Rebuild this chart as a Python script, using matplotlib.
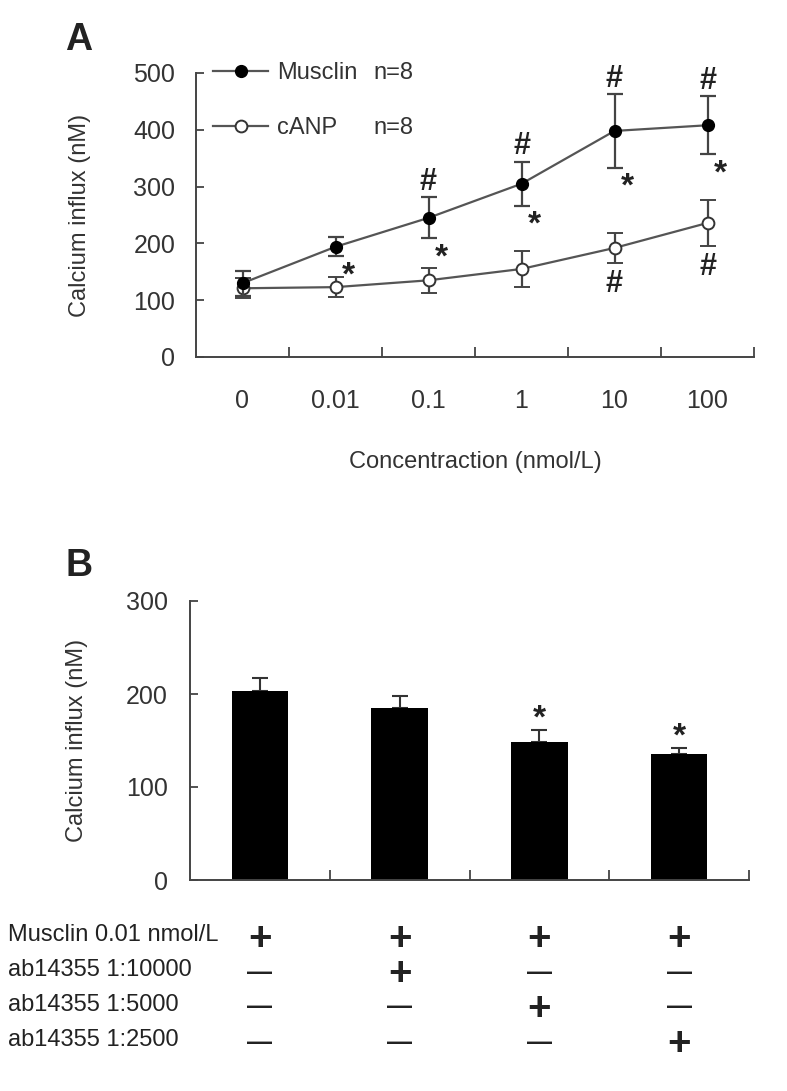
import matplotlib
matplotlib.use('Agg')
import matplotlib.pyplot as plt
import matplotlib.transforms as mtransforms
from matplotlib.lines import Line2D
import numpy as np

plt.rcParams['font.family'] = ['Liberation Sans', 'DejaVu Sans']

# panel A: calcium influx vs concentration
conc_labels = ['0', '0.01', '0.1', '1', '10', '100']
musclin_mean = [130, 194, 245, 305, 398, 408]
musclin_err = [22, 17, 36, 39, 65, 51]
canp_mean = [121, 123, 135, 155, 192, 236]
canp_err = [18, 18, 22, 31, 26, 40]
musclin_hash = [False, False, True, True, True, True]
musclin_star = [False, True, True, True, True, True]
canp_hash = [False, False, False, False, True, True]

# panel B: antibody blocking
bar_mean = [203, 185, 148, 135]
bar_err = [14, 13, 13, 7]
bar_star = [False, False, True, True]
row_labels = ['Musclin 0.01 nmol/L', 'ab14355 1:10000', 'ab14355 1:5000', 'ab14355 1:2500']
row_signs = [['+', '+', '+', '+'],
             ['—', '+', '—', '—'],
             ['—', '—', '+', '—'],
             ['—', '—', '—', '+']]

TXT = '#333333'
W, H = 787, 1091

fig = plt.figure(figsize=(W / 100, H / 100), dpi=100)


def style_axes(ax, ymax, ystep, ncat, ypad):
    for s in ['top', 'right']:
        ax.spines[s].set_visible(False)
    for s in ['left', 'bottom']:
        ax.spines[s].set_color('#444444')
        ax.spines[s].set_linewidth(1.4)
    ax.set_xlim(-0.5, ncat - 0.5)
    ax.set_ylim(0, ymax)
    ax.set_yticks(np.arange(0, ymax + 1, ystep))
    ax.tick_params(axis='y', direction='in', length=6, width=1.3, color='#444444',
                   labelsize=18, labelcolor=TXT, pad=ypad)
    ax.set_xticks(np.arange(0.5, ncat, 1.0), minor=True)
    ax.tick_params(axis='x', which='minor', direction='in', length=7, width=1.3,
                   color='#444444')
    ax.tick_params(axis='x', which='major', length=0)


# ---- panel A
ax_a = fig.add_axes([196 / W, 1 - 357 / H, 558 / W, 284 / H])
style_axes(ax_a, 500, 100, len(conc_labels), 15)
x = np.arange(len(conc_labels))
ax_a.set_xticks(x)
ax_a.set_xticklabels(conc_labels)
ax_a.tick_params(axis='x', which='major', labelsize=18, labelcolor=TXT, pad=23)

line_kw = dict(color='#555555', lw=1.6, ecolor='#444444', elinewidth=1.6,
               capsize=6, capthick=1.6, marker='o', ms=8.5)
ax_a.errorbar(x, canp_mean, yerr=canp_err, mfc='white', mec='#333333', mew=1.4,
              zorder=3, **line_kw)
ax_a.errorbar(x, musclin_mean, yerr=musclin_err, mfc='black', mec='black',
              zorder=4, **line_kw)

hash_kw = dict(textcoords='offset points', ha='center', va='center',
               fontsize=22, fontweight='bold', color='#222222')
star_kw = dict(textcoords='offset points', ha='center', va='center',
               fontsize=24, fontweight='bold', color='#222222')
for i in range(len(x)):
    if musclin_hash[i]:
        ax_a.annotate('#', (x[i], musclin_mean[i] + musclin_err[i]), xytext=(0, 11), **hash_kw)
    if musclin_star[i]:
        ax_a.annotate('*', (x[i], musclin_mean[i] - musclin_err[i]), xytext=(9, -14), **star_kw)
    if canp_hash[i]:
        ax_a.annotate('#', (x[i], canp_mean[i] - canp_err[i]), xytext=(0, -15), **hash_kw)

ax_a.set_ylabel('Calcium influx (nM)', fontsize=17, color=TXT, va='center')
ax_a.yaxis.set_label_coords((80 - 196) / 558, 0.5)
ax_a.set_xlabel('Concentraction (nmol/L)', fontsize=17, color=TXT, va='center')
ax_a.xaxis.set_label_coords(0.5, (357 - 462) / 284)

handles = [Line2D([], [], color='#555555', lw=1.6, marker='o', ms=8.5, mfc='black', mec='black'),
           Line2D([], [], color='#555555', lw=1.6, marker='o', ms=8.5, mfc='white',
                  mec='#333333', mew=1.4)]
ax_a.legend(handles, ['Musclin', 'cANP'], loc='upper left', bbox_to_anchor=(0.0136, 1.072),
            frameon=False, handlelength=2.33, handletextpad=0.38, labelspacing=1.4,
            prop={'size': 17}, labelcolor=TXT, borderaxespad=0)
for yy in [73, 128]:
    ax_a.text((373 - 196) / 558, (357 - yy) / 284, 'n=8', transform=ax_a.transAxes,
              fontsize=17, color=TXT, va='center')

# ---- panel B
ax_b = fig.add_axes([190 / W, 1 - 880 / H, 559 / W, 279 / H])
style_axes(ax_b, 300, 100, len(bar_mean), 16)
xb = np.arange(len(bar_mean))
ax_b.set_xticks(xb)
ax_b.set_xticklabels([])
ax_b.bar(xb, bar_mean, width=0.405, color='black', zorder=2)
ax_b.errorbar(xb, bar_mean, yerr=[np.zeros(len(bar_err)), bar_err], fmt='none',
              ecolor='#333333', elinewidth=1.5, capsize=5.5, capthick=1.5, zorder=1)
for i in range(len(xb)):
    if bar_star[i]:
        ax_b.annotate('*', (xb[i], bar_mean[i] + bar_err[i]), xytext=(0, 8), **star_kw)
ax_b.set_ylabel('Calcium influx (nM)', fontsize=17, color=TXT, va='center')
ax_b.yaxis.set_label_coords((77 - 190) / 559, 0.5)

# treatment table under panel B
trans = mtransforms.blended_transform_factory(ax_b.transData, fig.transFigure)
row_y = [935, 970, 1005, 1040]
for r, label in enumerate(row_labels):
    yy = 1 - row_y[r] / H
    fig.text(8 / W, yy, label, fontsize=17, color='#222222', va='center', ha='left')
    for c, sign in enumerate(row_signs[r]):
        if sign == '+':
            ax_b.text(xb[c], yy, '+', transform=trans, fontsize=29, fontweight='bold',
                      color='#222222', ha='center', va='center_baseline', clip_on=False)
        else:
            ax_b.text(xb[c], yy, '—', transform=trans, fontsize=18, fontweight='bold',
                      color='#222222', ha='center', va='center_baseline', clip_on=False)

fig.text(65 / W, 1 - 40 / H, 'A', fontsize=27, fontweight='bold', color='#222222',
         va='center', ha='left')
fig.text(65 / W, 1 - 566 / H, 'B', fontsize=27, fontweight='bold', color='#222222',
         va='center', ha='left')

fig.savefig('out.png', dpi=100, facecolor='white')
